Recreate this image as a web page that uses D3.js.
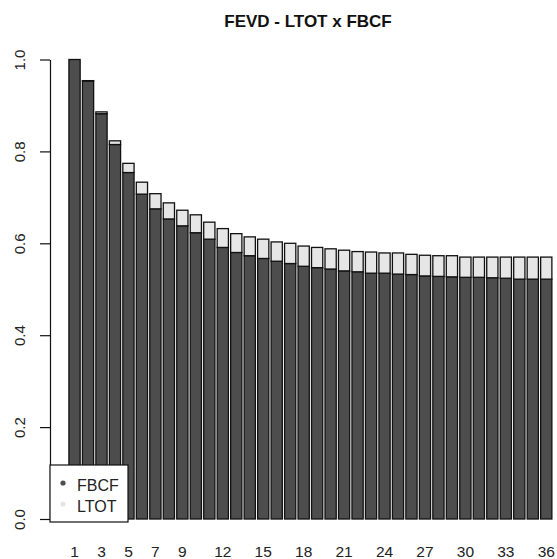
<!DOCTYPE html>
<html>
<head>
<meta charset="utf-8">
<script src="https://cdn.jsdelivr.net/npm/d3@7"></script>
<style>
  html, body { margin: 0; padding: 0; background: #fff; }
  svg { display: block; font-family: "Liberation Sans", Arial, sans-serif; }
</style>
</head>
<body>
<svg id="chart" width="557" height="559"></svg>
<script>
// Forecast error variance decomposition of LTOT, horizons 1..36
const periods = d3.range(1, 37);
const fbcf = [1.000, 0.953, 0.882, 0.815, 0.754, 0.707, 0.675, 0.653, 0.638, 0.623,
              0.609, 0.591, 0.580, 0.573, 0.567, 0.561, 0.556, 0.550, 0.547, 0.544,
              0.540, 0.538, 0.535, 0.535, 0.533, 0.532, 0.529, 0.528, 0.527, 0.526,
              0.526, 0.525, 0.524, 0.522, 0.522, 0.522];
const ltot = [0.000, 0.001, 0.004, 0.008, 0.020, 0.026, 0.033, 0.035, 0.034, 0.039,
              0.037, 0.041, 0.041, 0.041, 0.042, 0.042, 0.044, 0.044, 0.044, 0.044,
              0.045, 0.044, 0.046, 0.044, 0.046, 0.044, 0.045, 0.045, 0.046, 0.044,
              0.044, 0.045, 0.046, 0.048, 0.048, 0.048];
const seriesNames = ["FBCF", "LTOT"];
const seriesColors = ["#4d4d4d", "#e6e6e6"];
const yTicks = [0, 0.2, 0.4, 0.6, 0.8, 1.0];
const xLabels = [1, 3, 5, 7, 9, 12, 15, 18, 21, 24, 27, 30, 33, 36];

const svg = d3.select("#chart");

const x = d3.scaleBand()
  .domain(periods)
  .range([67.8, 553])
  .paddingInner(0.2 / 1.2)
  .paddingOuter(0.1 / 1.2);

const y = d3.scaleLinear().domain([0, 1]).range([519, 59.5]);

const rows = periods.map((p, i) => ({ period: p, FBCF: fbcf[i], LTOT: ltot[i] }));
const stacked = d3.stack().keys(seriesNames)(rows);

const bars = svg.append("g");
stacked.forEach((layer, k) => {
  bars.append("g")
    .attr("fill", seriesColors[k])
    .attr("stroke", "#111")
    .attr("stroke-width", 1.3)
    .selectAll("rect")
    .data(layer)
    .join("rect")
    .attr("x", d => x(d.data.period))
    .attr("width", x.bandwidth())
    .attr("y", d => y(d[1]))
    .attr("height", d => y(d[0]) - y(d[1]));
});

// y axis (R style: rotated labels, outward ticks)
const yAxis = svg.append("g").attr("transform", "translate(50,0)")
  .call(d3.axisLeft(y).tickValues(yTicks).tickFormat(d3.format(".1f"))
        .tickSize(10).tickSizeOuter(0));
yAxis.select(".domain").attr("stroke", "#111").attr("stroke-width", 1.2);
yAxis.selectAll(".tick line").attr("stroke", "#111").attr("stroke-width", 1.2);
yAxis.selectAll(".tick text")
  .attr("font-size", 15)
  .attr("fill", "#222")
  .attr("x", null).attr("dy", null)
  .attr("text-anchor", "middle")
  .attr("transform", "translate(-25,0) rotate(-90)");

// x category labels
svg.append("g")
  .selectAll("text")
  .data(xLabels)
  .join("text")
  .attr("x", d => x(d) + x.bandwidth() / 2)
  .attr("y", 557)
  .attr("text-anchor", "middle")
  .attr("font-size", 15.5)
  .attr("fill", "#222")
  .text(d => d);

// title
svg.append("text")
  .attr("x", 308)
  .attr("y", 27)
  .attr("text-anchor", "middle")
  .attr("font-size", 17)
  .attr("font-weight", "bold")
  .attr("fill", "#111")
  .text("FEVD - LTOT x FBCF");

// legend
const legend = svg.append("g");
legend.append("rect")
  .attr("x", 50).attr("y", 465).attr("width", 78).attr("height", 57)
  .attr("fill", "#fff").attr("stroke", "#111").attr("stroke-width", 1.2);
seriesNames.forEach((name, k) => {
  const cy = 483 + k * 21;
  legend.append("circle")
    .attr("cx", 63).attr("cy", cy).attr("r", 2.6)
    .attr("fill", seriesColors[k]);
  legend.append("text")
    .attr("x", 77).attr("y", cy + 8)
    .attr("font-size", 16)
    .attr("fill", "#222")
    .text(name);
});
</script>
</body>
</html>
